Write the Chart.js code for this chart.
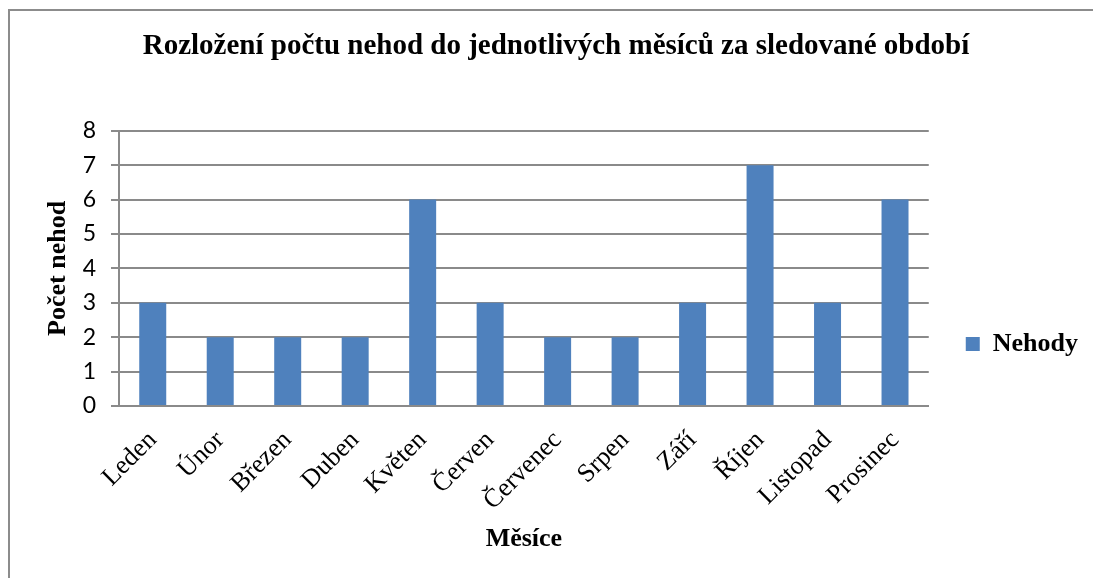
<!DOCTYPE html>
<html lang="cs">
<head>
<meta charset="utf-8">
<title>Rozložení počtu nehod</title>
<script src="https://cdn.jsdelivr.net/npm/chart.js@4/dist/chart.umd.min.js"></script>
<style>
  html, body { margin: 0; padding: 0; background: #ffffff; }
  #wrap { width: 1093px; height: 578px; }
</style>
</head>
<body>
<div id="wrap"><canvas id="chart" width="1093" height="578"></canvas></div>
<script>
// Počet nehod v jednotlivých měsících
const months = ['Leden', 'Únor', 'Březen', 'Duben', 'Květen', 'Červen',
                'Červenec', 'Srpen', 'Září', 'Říjen', 'Listopad', 'Prosinec'];
const accidents = [3, 2, 2, 2, 6, 3, 2, 2, 3, 7, 3, 6];
const seriesName = 'Nehody';
const yTicks = [0, 1, 2, 3, 4, 5, 6, 7, 8];

const SERIF = '"Liberation Serif", "Times New Roman", serif';
const SANS = 'Lato, "Liberation Sans", sans-serif';
const GRID = '#8a8a8a';

// Rámeček grafu (horní a levá hrana)
const framePlugin = {
  id: 'frame',
  beforeDraw(chart) {
    const ctx = chart.ctx;
    ctx.save();
    ctx.fillStyle = '#ffffff';
    ctx.fillRect(0, 0, chart.width, chart.height);
    ctx.strokeStyle = '#8c8c8c';
    ctx.lineWidth = 2;
    ctx.beginPath();
    ctx.moveTo(9, chart.height);
    ctx.lineTo(9, 10);
    ctx.lineTo(chart.width, 10);
    ctx.stroke();
    ctx.restore();
  }
};

// Legenda posunutá níže, pod střed grafu
const legendShift = {
  id: 'legendShift',
  afterLayout(chart) {
    const lg = chart.legend;
    if (lg) { lg.top += 55; lg.bottom += 55; }
  }
};

new Chart(document.getElementById('chart'), {
  type: 'bar',
  data: {
    labels: months,
    datasets: [{
      label: seriesName,
      data: accidents,
      backgroundColor: '#4f81bd',
      borderWidth: 0,
      categoryPercentage: 1.0,
      barPercentage: 0.4
    }]
  },
  options: {
    responsive: false,
    animation: false,
    layout: { padding: { left: 24, top: 0, right: 5, bottom: 0 } },
    plugins: {
      title: {
        display: true,
        text: 'Rozložení počtu nehod do jednotlivých měsíců za sledované období',
        color: '#000000',
        font: { family: SERIF, size: 29, weight: 'bold' },
        padding: { top: 29, bottom: 67 }
      },
      legend: {
        position: 'right',
        labels: {
          color: '#000000',
          font: { family: SERIF, size: 26, weight: 'bold' },
          boxWidth: 14,
          boxHeight: 14,
          padding: 37
        }
      },
      tooltip: { enabled: false }
    },
    scales: {
      x: {
        grid: { display: false },
        border: { display: true, color: GRID, width: 2 },
        ticks: {
          color: '#000000',
          font: { family: SERIF, size: 26 },
          minRotation: 45,
          maxRotation: 45,
          autoSkip: false,
          padding: 11
        },
        title: {
          display: true,
          text: 'Měsíce',
          color: '#000000',
          font: { family: SERIF, size: 26, weight: 'bold' },
          padding: { top: 0, bottom: 23 }
        },
        afterFit(scale) { scale.height = 172; }
      },
      y: {
        min: yTicks[0],
        max: yTicks[yTicks.length - 1],
        afterBuildTicks(scale) { scale.ticks = yTicks.map(v => ({ value: v })); },
        grid: { color: GRID, lineWidth: 2, tickLength: 8, tickColor: GRID },
        border: { display: true, color: GRID, width: 2 },
        ticks: {
          color: '#000000',
          font: { family: SANS, size: 23 },
          padding: 15
        },
        title: {
          display: true,
          text: 'Počet nehod',
          color: '#000000',
          font: { family: SERIF, size: 26, weight: 'bold' },
          padding: { top: 19, bottom: 0 }
        },
        afterFit(scale) { scale.width = 95; }
      }
    }
  },
  plugins: [framePlugin, legendShift]
});
</script>
</body>
</html>
